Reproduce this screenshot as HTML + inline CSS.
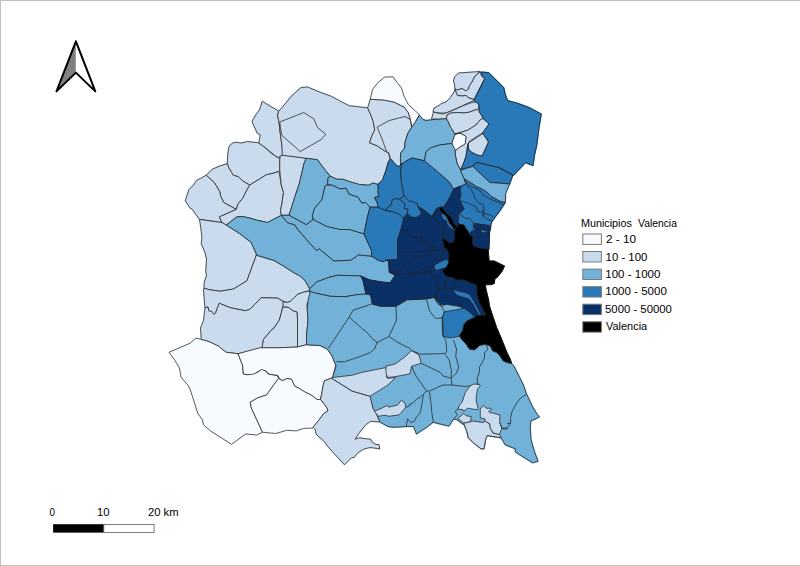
<!DOCTYPE html>
<html><head><meta charset="utf-8"><style>
html,body{margin:0;padding:0;background:#fff;}
svg{display:block;}
text{font-family:"Liberation Sans",sans-serif;font-size:11px;fill:#000;}
</style></head><body>
<svg width="800" height="566" viewBox="0 0 800 566">
<rect x="0" y="0" width="800" height="566" fill="#fff"/>
<g stroke-width="1.4" stroke-linejoin="round">
<polygon points="262.2,101.3 278.7,111.2 277.5,115.25 279,122 280.5,135.5 282,146 282.75,155 279,158 276,156.5 267,149 258.75,143 260.25,134.75 257.25,133.25 253.5,125 252,121.25 256.5,113.75 259.5,110" fill="#c9dbed" stroke="#c9dbed"/>
<polygon points="230.2,145 232.5,143.2 235.5,142.25 241.5,143 247.5,141.5 258,142.7 264,146.75 271.5,153.5 278.25,158 280.2,156.2 279.75,160.25 279.75,170 279,171.5 273,173.3 266.25,174.8 259.5,179 249.75,185 243,181.25 238.5,176.75 233.25,175.25 231,171.5 228.75,167.75 227.25,163.25 227.7,155 228.75,147.5" fill="#c9dbed" stroke="#c9dbed"/>
<polygon points="227.25,163.7 219,166.25 212.25,169.25 206.25,175.25 214.5,182.75 219.75,191.75 220.6,196.25 223.75,202.5 236.25,209.4 238.1,203.75 242.5,198.75 246.9,190 249.75,185 243,181.25 238.5,176.75 233.25,175.25 231,171.5 228.75,167.75" fill="#c9dbed" stroke="#c9dbed"/>
<polygon points="206.25,175.25 196.5,180.5 193.5,185 189,189.5 185.25,200.75 190,208.1 192,209 199.4,219.4 221.9,222.5 219.4,216.9 236.25,209.4 223.75,202.5 220.6,196.25 219.75,191.75 214.5,182.75" fill="#c9dbed" stroke="#c9dbed"/>
<polygon points="236.25,209.4 219.4,216.9 221.9,222.5 226.25,225 236.9,216.9 242.5,216.5 250,218.1 256.25,220 267.5,222.5 281.5,215.25 280.5,210.5 282,203 283.5,192.5 281.25,185 279,171.5 273,173.3 266.25,174.8 259.5,179 249.75,185 246.9,190 242.5,198.75 238.1,203.75" fill="#c9dbed" stroke="#c9dbed"/>
<polygon points="199.4,219.4 200,222.5 201.25,231.25 201.9,237.5 201.25,243.75 205,252.5 206.5,259 205.75,271 206.5,275.5 204.25,282.25 204,288.25 209.5,289.75 220,291.25 233.5,289 247,280.75 250,272.5 256,256 256.25,253.75 251.25,242.5 240,233.75 226.25,225 221.9,222.5" fill="#c9dbed" stroke="#c9dbed"/>
<polygon points="204,288.25 203.5,289 204.25,299.5 205,307.75 208,307 208.75,310.75 211.75,311.5 214,314.5 215.5,313 219.25,303.25 230.5,307.75 245.5,310.75 250,309.25 261.25,297.7 277.5,298.1 283.1,301.25 286.9,302.5 290.6,301.25 293.75,298.1 297.5,294.4 302.5,292.5 308.75,290.9 309.75,288.75 304.5,279.75 300,276 293.5,272.5 283,265.75 274,260.5 256.75,255.25 256,256 250,272.5 247,280.75 233.5,289 220,291.25 209.5,289.75" fill="#c9dbed" stroke="#c9dbed"/>
<polygon points="282.75,155 306.25,158.25 304,163.5 299.5,183 295,196.5 289,215.25 281.5,215.25 280.5,210.5 282,203 283.5,192.5 281.25,185 279.75,170 279.75,160.25 280.2,156.2" fill="#c9dbed" stroke="#c9dbed"/>
<polygon points="278.7,111.2 285,104 291,96.5 300,88.25 301.25,87.5 307.5,87 320,92.2 331.25,96.25 339.5,100.75 349.25,105.7 358.25,106.75 367.7,107.8 370.25,113.5 373.25,121.75 374.75,130 371.75,136 369.5,142.75 377,145.75 386,151.75 388.7,152.7 389.8,155.9 390.3,158.6 388.2,162.3 386,170 382.5,180 377.9,184.4 373,183 368.5,185.25 359.5,184.5 349,181.5 343,179.25 337,179.25 330.25,176.25 323.5,168 317.5,159.75 306.25,158.25 282.25,155.25 282,146 280.5,135.5 279,122 277.5,115.25" fill="#c9dbed" stroke="#c9dbed"/>
<polygon points="279.75,122 303.75,112.5 313.75,118.75 317.5,127.5 325.75,134.25 321.25,139.5 300.25,151.5 282,135.5 280.5,128" fill="#c9dbed" stroke="#c9dbed"/>
<polygon points="306.25,158.25 304,163.5 299.5,183 295,196.5 289,215.25 306.25,224.7 313,219.75 312.25,216 314.5,208.5 322,199.5 325,186 327.7,184.5 328,177.75 330.25,176.25 323.5,168 317.5,159.75" fill="#73b2d8" stroke="#73b2d8"/>
<polygon points="327.7,184.5 328,177.75 330.25,176.25 337,179.25 343,179.25 349,181.5 359.5,184.5 368.5,185.25 373,183 377.9,184.4 378.25,188.5 377.9,193 379,196.4 376.75,196.75 374.5,197.5 376,200.5 377.5,203.5 377.9,207.25 370,207 365.5,202.5 361.75,203.25 358,197.25 349,194.25 346,188.25 340,189 332.5,185.25" fill="#73b2d8" stroke="#73b2d8"/>
<polygon points="326.5,185.25 332.5,185.25 340,189 346,188.25 349,194.25 358,197.25 361.75,203.25 365.5,202.5 370,207 367,219 364,234 349,229.5 340,229.5 326.5,226.5 313.75,219.75 312.25,216 314.5,208.5 322,199.5 325,186" fill="#73b2d8" stroke="#73b2d8"/>
<polygon points="289,215.25 306.25,224.7 313,219.75 313.75,219.75 326.5,226.5 340,229.5 349,229.5 364,234 371.5,250.5 371.5,256.5 370.5,256.25 358.5,255 351,260.25 333.75,261 319.5,249 316.5,250.5 306.75,240 296.5,228 295,225 287.5,222.75 283,217.5 281.5,215.25" fill="#73b2d8" stroke="#73b2d8"/>
<polygon points="226.25,225 236.9,216.9 242.5,216.5 250,218.1 256.25,220 267.5,222.5 281.5,215.25 283,217.5 287.5,222.75 295,225 296.5,228 306.75,240 316.5,250.5 319.5,249 333.75,261 351,260.25 358.5,255 370.5,256.25 372,256.25 378,260.25 384,261.75 385.5,260.25 388.5,261 389.25,272.25 395.25,275.25 390,282.75 381.75,282 369,279.75 360.75,276 337.5,275.25 328.5,277.5 316.5,282 309.75,288.75 304.5,279.75 300,276 293.5,272.5 283,265.75 274,260.5 256.75,255.25 256.25,253.75 251.25,242.5 240,233.75" fill="#73b2d8" stroke="#73b2d8"/>
<polygon points="309.75,288.75 316.5,282 328.5,277.5 337.5,275.25 360.75,276 363,280.5 366,294 356.25,294.75 345,296.75 330,296.25 316.5,293.25 309.75,291.75" fill="#73b2d8" stroke="#73b2d8"/>
<polygon points="370.25,99.25 372.5,89.5 377.75,82.75 384.5,77.2 392.75,76.75 398,83.5 401.4,87.9 404.1,96.2 408.3,104.5 415.2,110.7 419.3,114.8 415.2,122.4 411.7,127.2 410.3,119.7 408.3,112.8 404.1,107.2 394.5,102.4 384.8,100.3 377,99.8" fill="#f7fbff" stroke="#f7fbff"/>
<polygon points="370.25,99.25 377,99.8 384.8,100.3 394.5,102.4 404.1,107.2 408.3,112.8 410.3,119.7 411.7,127.2 408,133 405,142 401.25,152.5 399.5,160 399.75,166 390.25,158.25 388,152 386,151.75 377,145.75 369.5,142.75 371.75,136 374.75,130 373.25,121.75 370.25,113.5 367.7,107.8" fill="#c9dbed" stroke="#c9dbed"/>
<polygon points="377.25,127 390,120.25 405,116.5 410.2,119.5 411.7,127.2 408,133 405,142 404.6,148 400.9,152.7 400.4,158.6 400.9,163.3 399.9,166.5 397.2,166 394,162.8 390.3,158.6 389.8,155.9 388.7,152.7 386.6,151.7 384.5,145.8 382.4,140" fill="#c9dbed" stroke="#c9dbed"/>
<polygon points="411.7,127.2 415.2,122.4 419.3,115.2 423,119.5 426,120.5 438,119 446.5,118.5 448.5,122 450,126 455,134 453,140 452,144 451.5,143.5 439.5,145 430.5,148 426,151.75 424.5,160.75 412,158 407.8,160.1 402,163.9 400.9,163.3 400.4,158.6 400.9,152.7 404.6,148 405,142 408,133" fill="#73b2d8" stroke="#73b2d8"/>
<polygon points="455,134.5 460,133 464,135 466.5,137 465.5,140 465.5,143 464.5,144.5 460,147 455,151 452,144 453,140" fill="#f7fbff" stroke="#f7fbff"/>
<polygon points="458.5,73 480,71.5 475,76 472,82 469,86.5 469,88.5 466,91 462,88.5 457.5,90 455,89 454.5,84.5 453.5,81 454.5,77" fill="#c9dbed" stroke="#c9dbed"/>
<polygon points="480,72 481.5,76 484.5,78.5 474,99.5 469,98 466,95.5 462,96 457.5,95.5 456,92 455,89 457.5,90 462,88.5 466,91 469,88.5 469,86.5 472,82 475,76" fill="#c9dbed" stroke="#c9dbed"/>
<polygon points="455,89.5 456,92 457.5,95.5 462,96 466,95.5 469,98 474,99.5 474.5,100 472,101.5 468,103 462,106 453,110 446,113 440,113 433,112 434,108 438,106 441.5,103.5 446,102 450,98 454,92" fill="#c9dbed" stroke="#c9dbed"/>
<polygon points="433.5,112 437,113 443.5,114 450,111.5 458,108 465,105 472,102.5 475.5,102 477.5,102.5 479,106 478,109.5 475,110 470,112 464,113 458,112.5 451,113 447,115 446.5,118.5 438,119 431.5,119" fill="#c9dbed" stroke="#c9dbed"/>
<polygon points="447,115 451,113 458,112.5 464,113 470,112 475,110 478,109.5 480,112 483,118.5 480,120 476,125 468,130 462,132 455,134 450,126 448.5,122 446.5,118.5" fill="#c9dbed" stroke="#c9dbed"/>
<polygon points="455,134 462,132 468,130 476,125 480,120 483,118.5 489,124 483,132.5 476,137 470,141 468.5,143 467.5,146 467,150 466,156 464,162 460.5,170 457,163 455.5,156 455,151 460,147 464.5,144.5 465.5,143 465.5,140 466.5,137 464,135 460,133" fill="#c9dbed" stroke="#c9dbed"/>
<polygon points="468.5,143 483,133.5 488.5,142 484.5,151 482,156 477,155 471,152 468.5,149 468,145" fill="#c9dbed" stroke="#c9dbed"/>
<polygon points="481,72 488.75,72.75 497,81 503.75,87.75 505.25,94.5 507.5,100.5 518,103.5 530,108 541.25,114 539,127.5 536.75,145 534.5,155 533,165.5 525.5,162.5 513.5,175.25 500,167.75 476,162.5 472.25,166.25 461,169.25 460.5,170 464,162 466,156 467,150 467.5,146 468.5,143 468,145 468.5,149 471,152 477,155 482,156 484.5,151 488.5,142 483,133.5 483,132.5 489,124 483.5,118.5 479,111.75 479.75,108 478.25,103.5 473.75,100.5 485,78.75 482.75,76.5" fill="#2979b9" stroke="#2979b9"/>
<polygon points="390.3,158.6 394,162.8 397.2,166 399.9,166.5 400.9,163.3 402,163.9 400.6,170 400.75,175 401.5,182.5 403,190 403.75,195.25 403,196 400,199.75 398.5,199 395.5,198.6 392.5,199.75 391,205 387.25,208 385,210.25 377.9,207.25 377.5,203.5 376,200.5 374.5,197.5 376.75,196.75 379,196.4 377.9,193 378.25,188.5 377.9,184.4 382.5,180 386,170 388.2,162.3" fill="#2979b9" stroke="#2979b9"/>
<polygon points="402,163.9 407.8,160.1 412,158 424.5,160.75 435,169.4 448.75,181.25 453.75,189 450,197.25 444,207 441,207 436.5,208.5 432,216.75 423.75,210 417.75,206.25 417,203.25 414,202.5 411.75,201 409.5,201.75 407.5,200.5 403.75,195.25 403,190 401.5,182.5 400.75,175 400.6,170" fill="#2979b9" stroke="#2979b9"/>
<polygon points="424.5,160.75 426,151.75 430.5,148 439.5,145 451.5,143.5 455.25,149.5 455,151 455.5,156 457,163 460.5,170 462.9,176 464.1,178.5 465,181 466,184.1 461,186 456,187.9 453.75,189 448.75,181.25 435,169.4" fill="#73b2d8" stroke="#73b2d8"/>
<polygon points="370,207 377.9,207.25 385,210.25 392.5,211.6 399.5,214.25 402.1,216.9 403.9,217.75 401.25,228.75 397.5,240 397.5,259.5 385.5,260.25 384,261.75 378,260.25 372,256.25 371.5,256.5 371.5,250.5 364,234 367,219" fill="#2979b9" stroke="#2979b9"/>
<polygon points="403.9,217.75 407.25,213 411,216.75 414,217.5 418.5,216.75 419.25,215.25 421.5,213.75 420.75,211.5 418.5,208.5 417.75,206.25 423.75,210 432,216.75 436.5,208.5 441,207 444,207 450,197.25 453.75,189 456,187.9 461,186 460.4,190.4 461,194.75 459.75,199.75 461.6,204.1 464.1,208.5 462.25,211 458.75,213.75 458.1,222.5 459.25,224 457,226.25 455.3,229.6 454.2,233 454.75,238.6 453.6,242 449.1,243.1 446.9,240.9 444.6,238.6 442.4,239.2 443.5,243.1 444.6,247.6 448,251 449.1,254.4 448.6,257.75 449.1,262.25 445.75,267.9 442.4,270.1 443.5,272.4 444.6,274 446.9,276.6 453.6,277.75 457,280 459.8,280 462.6,279.4 475,284.5 476.7,285.1 477.25,295.75 479.5,302.5 482.9,309.25 486.25,314.9 481.6,315.2 477.1,315.75 474.75,317 471,313.25 465,309 459.5,306.5 446,304.25 441,305 434,297.5 426.5,299 407,299.75 405,301.25 396,306.5 381,306.5 372,304.25 370.5,295.25 366,294 363,280.5 360.75,276 369,279.75 381.75,282 390,282.75 395.25,275.25 389.25,272.25 388.5,261 385.5,260.25 397.5,259.5 397.5,240 401.25,228.75" fill="#0a3068" stroke="#0a3068"/>
<polygon points="399.75,199.5 402.75,196.5 404.25,195 405.75,198 409.5,201.75 411.75,201 414,202.5 417,203.25 417.75,206.25 418.5,208.5 420.75,211.5 421.5,213.75 419.25,215.25 418.5,216.75 414,217.5 411,216.75 407.25,213 408,209.25 404.25,208.5 405,204" fill="#2979b9" stroke="#2979b9"/>
<polygon points="385,210.25 387.25,208 391,205 392.5,199.75 395.5,198.6 398.5,199 400,199.75 405,204 404.25,208.5 408,209.25 407.25,213 403.9,217.75 402.1,216.9 399.5,214.25 392.5,211.6" fill="#2979b9" stroke="#2979b9"/>
<polygon points="434.3,265.4 439.1,262.4 445.75,259.3 448.4,260.6 448.4,265.4 446.2,267.65 442.2,268.5 436,270.7 434.3,267.65" fill="#2979b9" stroke="#2979b9"/>
<polygon points="454,289.5 460,291.5 465,292.5 470,294.5 472.5,299 476,305 479.5,311.5 481.5,315.5 479,315 476.5,311 473,304.5 469,299 462,297 456.5,295 454,291.5" fill="#2979b9" stroke="#2979b9"/>
<polygon points="461,186 466,184.1 464.1,178.5 467.9,181 472.25,183.5 476.6,186.6 481,188.5 484.75,190.4 487.9,192.9 491,196 496,199.1 501,201.6 505.4,202.25 500,210.5 495.5,216.5 491.75,221.75 490.75,225.1 489.6,230.75 489,237.5 488.5,244.25 488,249.3 484,248.75 477.25,247.6 472.75,245.4 472.2,240.9 472.75,237.5 469.4,234.7 468.25,231.9 466,228.5 463.75,225.1 459.25,224 458.1,222.5 458.75,213.75 462.25,211 464.1,208.5 461.6,204.1 459.75,199.75 461,194.75 460.4,190.4" fill="#2979b9" stroke="#2979b9"/>
<polygon points="474.6,223.3 490.7,226.4 489.4,231.9 480.8,229.4 475.8,229.4 474,227" fill="#0a3068" stroke="#0a3068"/>
<polygon points="469.7,233.1 475.8,229.4 480.8,229.4 481.4,233.1 477.1,236.9 472.1,237.5 469.7,234.4" fill="#0a3068" stroke="#0a3068"/>
<polygon points="472.1,237.5 477.1,236.9 481.4,233.1 489.4,231.9 488.8,249.2 484,248.75 477.25,247.6 472.75,245.4 472.2,240.9" fill="#0a3068" stroke="#0a3068"/>
<polygon points="441,213.8 443.4,213.8 445.8,215.6 447.6,218.6 448.8,221 450,224 451.8,225.8 453.6,228.2 454.2,229.4 452.4,229.4 450,227.6 448.2,225.8 447,224 446.4,221 444,219.8 442.2,217.4" fill="#2979b9" stroke="#2979b9"/>
<polygon points="459.25,224 463.75,225.1 466,228.5 468.25,231.9 469.4,234.7 472.75,237.5 472.2,240.9 472.75,245.4 477.25,247.6 484,248.75 488,249.3 488.5,255.5 489,261.1 494.1,261.1 498.6,263.4 504.25,266.2 502,271 497.5,276.6 494.7,278.9 494.1,283.4 490.75,284.5 485.1,284.5 486.25,291.25 488.5,300.25 489.5,306.75 492.9,316.9 496.25,327 500.75,337.5 503.75,345 506.75,352.5 509.75,358.5 511.6,363.75 506,362.25 503,360.75 498.5,354 496.25,352.5 492.5,351 490.25,346.1 485,344.6 479.75,345.4 477.5,347.6 474.5,349.9 470,349.5 468.7,348.4 465.9,343.9 462.5,340.5 459.1,336 462.5,330.4 463.6,324.75 467,320.8 470.4,319.1 473.75,318 477.1,315.75 481.6,315.2 486.25,314.9 482.9,309.25 479.5,302.5 477.25,295.75 476.7,285.1 475,284.5 462.6,279.4 459.8,280 457,280 453.6,277.75 446.9,276.6 444.6,274 443.5,272.4 442.4,270.1 445.75,267.9 449.1,262.25 448.6,257.75 449.1,254.4 448,251 444.6,247.6 443.5,243.1 442.4,239.2 444.6,238.6 446.9,240.9 449.1,243.1 453.6,242 454.75,238.6 454.2,233 455.3,229.6 457,226.25" fill="#000000" stroke="#000000"/>
<polygon points="439.2,207.8 442.2,207.5 444,210.2 447,213.8 450,216.2 451.8,218.6 453,221.6 454.8,224.6 456,226.4 457,226.25 455.3,229.6 454.8,228.2 453.6,228.2 451.8,225.8 450,224 448.8,221 447.6,218.6 445.8,215.6 443.4,213.8 441,212 439.8,209.6" fill="#000000" stroke="#000000"/>
<polygon points="472.8,166.4 476.8,162.4 498.4,167.6 512.8,175.2 509.6,184 489.6,182.4" fill="#2979b9" stroke="#2979b9"/>
<polygon points="460.8,171.2 461.6,170 472.8,166.4 489.6,182.4 509.6,184 505.6,193.6 505.4,202.25 501,201.6 496,199.1 491,196 487.9,192.9 484.75,190.4 481,188.5 476.6,186.6 472.25,183.5 467.9,181 464.1,178.5 462.9,176" fill="#73b2d8" stroke="#73b2d8"/>
<polygon points="282.8,301.6 286.9,302.5 290.6,301.25 293.75,298.1 297.5,294.4 302.5,292.5 308.75,290.9 310.6,293.75 308.75,299.4 306.9,305 307.5,311.25 308.1,320 306.5,335 306.5,344.75 297.5,347 297.5,320 296.9,311.9 293.1,311 288.1,307.2 282.8,307.2" fill="#c9dbed" stroke="#c9dbed"/>
<polygon points="205,307.75 208,307 208.75,310.75 211.75,311.5 214,314.5 215.5,313 219.25,303.25 230.5,307.75 245.5,310.75 250,309.25 261.25,297.7 277.5,298.1 283.1,301.25 282.8,307.2 279.4,320 274,328 271,330.5 263.5,339.5 262,347.75 250,350.75 238,353.75 226,352.25 218.5,346.25 209.5,341.75 201.25,339.5 200.5,328 203.5,320.5" fill="#c9dbed" stroke="#c9dbed"/>
<polygon points="282.8,307.2 288.1,307.2 293.1,311 296.9,311.9 297.5,320 297.5,347 280,347.75 262,347.75 263.5,339.5 271,330.5 274,328 279.4,320" fill="#c9dbed" stroke="#c9dbed"/>
<polygon points="169,352.25 190,343.25 196,338 201.25,339.5 209.5,341.75 218.5,346.25 226,352.25 238,353.75 242.5,365 243.25,374 247,374.75 257.5,372.5 262,368.75 266.5,371.75 268,374 277,375.5 278.5,378.5 274,384.5 266.5,395 257.5,398 250.3,402.2 251.25,407.8 262.5,432.2 256.9,435 245.6,434 235.3,441.6 231.6,444.4 211,431.25 203.4,424.7 202.5,420 197.8,413.4 194,401.25 190.3,390 188.5,386 181,377 179.5,368 175,360.5" fill="#f7fbff" stroke="#f7fbff"/>
<polygon points="238,353.75 260,347.75 280,347.75 297.5,347 306.5,344.75 320,345.5 327.5,349.25 332,356 335.75,365 333.5,374 332.5,377.5 330.5,378.5 324.5,380.75 323,386 321.5,395 320,400.25 317,399.5 311,395 303.5,391.25 299,388.25 294.5,386 291.5,379.25 287,378.5 282.5,380.75 279.5,378.5 278,375.5 269,374 266,371 261.5,369.5 254,374 248,374.75 243.5,374 242.5,365" fill="#f7fbff" stroke="#f7fbff"/>
<polygon points="278.5,378.5 282.5,380.75 287,378.5 291.5,379.25 294.5,386 299,388.25 303.5,391.25 311,395 317,399.5 320.5,399.5 324.25,404 327,408 328,410.75 323.5,413.75 319.75,419 316,423.5 313,428 303.75,428.4 296.25,430.9 286.9,430.3 275.6,433.5 262.5,432.2 251.25,407.8 250.3,402.2 257.5,398 266.5,395 274,384.5" fill="#f7fbff" stroke="#f7fbff"/>
<polygon points="310.25,291.5 316.5,293.25 330,296.25 345,296.75 356.25,294.75 366,294 370.5,295.25 372,304.25 381,306.5 396,306.5 405,301.25 407,299.75 426.5,299 434,297.5 441,305 446,304.25 459.5,306.5 465,309 471,313.25 474.75,317 470.4,319.1 467,320.8 463.6,324.75 462.5,330.4 459.1,336 462.5,340.5 465.9,343.9 468.7,348.4 470,349.5 474.5,349.9 477.5,347.6 479.75,345.4 485,344.6 490.25,346.1 492.5,351 496.25,352.5 498.5,354 503,360.75 506,362.25 511.6,363.75 514,366.25 518.75,375.6 523.4,385 526.25,393.4 532.5,406.6 537.2,414.4 539.5,416.7 535.6,419 531,420.6 530.2,426.9 531,439.4 534,450.3 538,461.25 532.5,462.8 520,455 515.3,451.9 515.3,448.75 505.2,444.8 501.25,437.8 487.2,435.5 485.6,439.4 484,448.75 481,448.75 473.1,442.5 468.4,437.8 466.9,431.6 464.5,425.3 456.7,419.8 453.6,419 448.9,426.1 441.9,424.5 433.3,422.2 426.25,427.7 420,431.6 416.5,434 413.5,426.5 406,426.5 394,427.25 388,426.5 379.75,422 376,413 373,408.5 370,398 370,396.25 352,391 331.75,378.25 332.5,377.5 336.25,365.5 335.75,365 332,356 327.5,349.25 320,345.5 306.5,344.75 306.5,335 308,320 307.25,309.5 308,300.5" fill="#73b2d8" stroke="#73b2d8"/>
<polygon points="444.5,311.75 458,309.5 464,308 470,312.5 474.75,317 470.4,319.1 467,320.8 463.6,324.75 462.5,330.4 459.1,336 458,336.5 450.5,338 443,336.5 442.25,326 442.25,317.75" fill="#2979b9" stroke="#2979b9"/>
<polygon points="331.75,378.25 352,391 370,396.25 373,408.5 376,413 379.75,422 370.75,421.25 365.5,425 359.5,432.5 355,439.25 359.5,437.75 364,438.5 370.75,439.25 371.5,441.5 376,444.5 379,444.5 379.75,449 376,448.25 370,447.5 364,449 358,452.75 353.5,458 352,457.25 344.5,464.75 335.5,455 328,446.75 324.25,441.5 319,437 316,434 315.25,429.5 313,427.25 316,423.5 319.75,419 323.5,413.75 328,410.75 327,408 324.25,404 320.5,399.5 321.5,395 323,386 324.5,380.75 330.5,378.5" fill="#c9dbed" stroke="#c9dbed"/>
<polygon points="332.5,377.5 352,375.25 362.5,372.25 385,367.75 388,369.25 386.5,377.5 388,378.25 395.5,377.5 388,385 370,396.25 352,391 331.75,378.25" fill="#c9dbed" stroke="#c9dbed"/>
<polygon points="386,366.25 395,364 405.5,356.5 411.5,350.5 419,355 421.25,363.25 411.5,366.25 410,373.75 395,376.75 387.5,377.5 386,373" fill="#c9dbed" stroke="#c9dbed"/>
<polygon points="374.4,411.25 381.25,408.4 387.5,405.3 388.75,407.2 397.5,405 401.25,400.3 405,403.1 405.6,407.5 401.25,412.5 398.75,415 388.75,416.25 385,415.3 378.1,416.25" fill="#c9dbed" stroke="#c9dbed"/>
<polygon points="470,385.9 473.75,384 479.4,384.5 480.3,385.9 477.5,388.75 476.6,394.4 476.1,400 478,408.25 477.25,409.75 467.5,408.25 463.75,411.25 463,409.75 457.75,409 460,404.5 462.2,401.9 465.3,392.5" fill="#c9dbed" stroke="#c9dbed"/>
<polygon points="457.75,418.75 463.75,413.5 466,415.75 471.25,416.5 470.5,421.75 463.75,423.25 459.25,419.5" fill="#c9dbed" stroke="#c9dbed"/>
<polygon points="463.75,423.25 470.5,421.75 472.75,421 478,421.75 483.25,422.5 485.5,421 486.25,421.75 490,424 490,427.75 491.5,430 493,433 496.75,433.75 499.75,434.5 500.5,437.5 501.25,437.8 487.2,435.5 485.6,439.4 484,448.75 481,448.75 473.1,442.5 468.4,437.8 466.9,431.6 464.5,425.3" fill="#c9dbed" stroke="#c9dbed"/>
<polygon points="480.25,409 483.25,405.6 486.25,408.25 490.75,408.25 491.5,409.75 488.5,411.25 490,412.75 493,413.1 499.75,415 499.75,422.5 502,428.5 500.5,431.5 499.75,434.5 496.75,433.75 493,433 491.5,430 490,427.75 490,424 486.25,421.75 485.5,421 484.75,418.75 480.25,418" fill="#c9dbed" stroke="#c9dbed"/>
</g>
<g stroke="#232323" stroke-width="0.75" stroke-linejoin="round" fill="none">
<polygon points="262.2,101.3 278.7,111.2 277.5,115.25 279,122 280.5,135.5 282,146 282.75,155 279,158 276,156.5 267,149 258.75,143 260.25,134.75 257.25,133.25 253.5,125 252,121.25 256.5,113.75 259.5,110" fill="#c9dbed"/>
<polygon points="230.2,145 232.5,143.2 235.5,142.25 241.5,143 247.5,141.5 258,142.7 264,146.75 271.5,153.5 278.25,158 280.2,156.2 279.75,160.25 279.75,170 279,171.5 273,173.3 266.25,174.8 259.5,179 249.75,185 243,181.25 238.5,176.75 233.25,175.25 231,171.5 228.75,167.75 227.25,163.25 227.7,155 228.75,147.5" fill="#c9dbed"/>
<polygon points="227.25,163.7 219,166.25 212.25,169.25 206.25,175.25 214.5,182.75 219.75,191.75 220.6,196.25 223.75,202.5 236.25,209.4 238.1,203.75 242.5,198.75 246.9,190 249.75,185 243,181.25 238.5,176.75 233.25,175.25 231,171.5 228.75,167.75" fill="#c9dbed"/>
<polygon points="206.25,175.25 196.5,180.5 193.5,185 189,189.5 185.25,200.75 190,208.1 192,209 199.4,219.4 221.9,222.5 219.4,216.9 236.25,209.4 223.75,202.5 220.6,196.25 219.75,191.75 214.5,182.75" fill="#c9dbed"/>
<polygon points="236.25,209.4 219.4,216.9 221.9,222.5 226.25,225 236.9,216.9 242.5,216.5 250,218.1 256.25,220 267.5,222.5 281.5,215.25 280.5,210.5 282,203 283.5,192.5 281.25,185 279,171.5 273,173.3 266.25,174.8 259.5,179 249.75,185 246.9,190 242.5,198.75 238.1,203.75" fill="#c9dbed"/>
<polygon points="199.4,219.4 200,222.5 201.25,231.25 201.9,237.5 201.25,243.75 205,252.5 206.5,259 205.75,271 206.5,275.5 204.25,282.25 204,288.25 209.5,289.75 220,291.25 233.5,289 247,280.75 250,272.5 256,256 256.25,253.75 251.25,242.5 240,233.75 226.25,225 221.9,222.5" fill="#c9dbed"/>
<polygon points="204,288.25 203.5,289 204.25,299.5 205,307.75 208,307 208.75,310.75 211.75,311.5 214,314.5 215.5,313 219.25,303.25 230.5,307.75 245.5,310.75 250,309.25 261.25,297.7 277.5,298.1 283.1,301.25 286.9,302.5 290.6,301.25 293.75,298.1 297.5,294.4 302.5,292.5 308.75,290.9 309.75,288.75 304.5,279.75 300,276 293.5,272.5 283,265.75 274,260.5 256.75,255.25 256,256 250,272.5 247,280.75 233.5,289 220,291.25 209.5,289.75" fill="#c9dbed"/>
<polygon points="282.75,155 306.25,158.25 304,163.5 299.5,183 295,196.5 289,215.25 281.5,215.25 280.5,210.5 282,203 283.5,192.5 281.25,185 279.75,170 279.75,160.25 280.2,156.2" fill="#c9dbed"/>
<polygon points="278.7,111.2 285,104 291,96.5 300,88.25 301.25,87.5 307.5,87 320,92.2 331.25,96.25 339.5,100.75 349.25,105.7 358.25,106.75 367.7,107.8 370.25,113.5 373.25,121.75 374.75,130 371.75,136 369.5,142.75 377,145.75 386,151.75 388.7,152.7 389.8,155.9 390.3,158.6 388.2,162.3 386,170 382.5,180 377.9,184.4 373,183 368.5,185.25 359.5,184.5 349,181.5 343,179.25 337,179.25 330.25,176.25 323.5,168 317.5,159.75 306.25,158.25 282.25,155.25 282,146 280.5,135.5 279,122 277.5,115.25" fill="#c9dbed"/>
<polygon points="279.75,122 303.75,112.5 313.75,118.75 317.5,127.5 325.75,134.25 321.25,139.5 300.25,151.5 282,135.5 280.5,128" fill="#c9dbed"/>
<polygon points="306.25,158.25 304,163.5 299.5,183 295,196.5 289,215.25 306.25,224.7 313,219.75 312.25,216 314.5,208.5 322,199.5 325,186 327.7,184.5 328,177.75 330.25,176.25 323.5,168 317.5,159.75" fill="#73b2d8"/>
<polygon points="327.7,184.5 328,177.75 330.25,176.25 337,179.25 343,179.25 349,181.5 359.5,184.5 368.5,185.25 373,183 377.9,184.4 378.25,188.5 377.9,193 379,196.4 376.75,196.75 374.5,197.5 376,200.5 377.5,203.5 377.9,207.25 370,207 365.5,202.5 361.75,203.25 358,197.25 349,194.25 346,188.25 340,189 332.5,185.25" fill="#73b2d8"/>
<polygon points="326.5,185.25 332.5,185.25 340,189 346,188.25 349,194.25 358,197.25 361.75,203.25 365.5,202.5 370,207 367,219 364,234 349,229.5 340,229.5 326.5,226.5 313.75,219.75 312.25,216 314.5,208.5 322,199.5 325,186" fill="#73b2d8"/>
<polygon points="289,215.25 306.25,224.7 313,219.75 313.75,219.75 326.5,226.5 340,229.5 349,229.5 364,234 371.5,250.5 371.5,256.5 370.5,256.25 358.5,255 351,260.25 333.75,261 319.5,249 316.5,250.5 306.75,240 296.5,228 295,225 287.5,222.75 283,217.5 281.5,215.25" fill="#73b2d8"/>
<polygon points="226.25,225 236.9,216.9 242.5,216.5 250,218.1 256.25,220 267.5,222.5 281.5,215.25 283,217.5 287.5,222.75 295,225 296.5,228 306.75,240 316.5,250.5 319.5,249 333.75,261 351,260.25 358.5,255 370.5,256.25 372,256.25 378,260.25 384,261.75 385.5,260.25 388.5,261 389.25,272.25 395.25,275.25 390,282.75 381.75,282 369,279.75 360.75,276 337.5,275.25 328.5,277.5 316.5,282 309.75,288.75 304.5,279.75 300,276 293.5,272.5 283,265.75 274,260.5 256.75,255.25 256.25,253.75 251.25,242.5 240,233.75" fill="#73b2d8"/>
<polygon points="309.75,288.75 316.5,282 328.5,277.5 337.5,275.25 360.75,276 363,280.5 366,294 356.25,294.75 345,296.75 330,296.25 316.5,293.25 309.75,291.75" fill="#73b2d8"/>
<polygon points="370.25,99.25 372.5,89.5 377.75,82.75 384.5,77.2 392.75,76.75 398,83.5 401.4,87.9 404.1,96.2 408.3,104.5 415.2,110.7 419.3,114.8 415.2,122.4 411.7,127.2 410.3,119.7 408.3,112.8 404.1,107.2 394.5,102.4 384.8,100.3 377,99.8" fill="#f7fbff"/>
<polygon points="370.25,99.25 377,99.8 384.8,100.3 394.5,102.4 404.1,107.2 408.3,112.8 410.3,119.7 411.7,127.2 408,133 405,142 401.25,152.5 399.5,160 399.75,166 390.25,158.25 388,152 386,151.75 377,145.75 369.5,142.75 371.75,136 374.75,130 373.25,121.75 370.25,113.5 367.7,107.8" fill="#c9dbed"/>
<polygon points="377.25,127 390,120.25 405,116.5 410.2,119.5 411.7,127.2 408,133 405,142 404.6,148 400.9,152.7 400.4,158.6 400.9,163.3 399.9,166.5 397.2,166 394,162.8 390.3,158.6 389.8,155.9 388.7,152.7 386.6,151.7 384.5,145.8 382.4,140" fill="#c9dbed"/>
<polygon points="411.7,127.2 415.2,122.4 419.3,115.2 423,119.5 426,120.5 438,119 446.5,118.5 448.5,122 450,126 455,134 453,140 452,144 451.5,143.5 439.5,145 430.5,148 426,151.75 424.5,160.75 412,158 407.8,160.1 402,163.9 400.9,163.3 400.4,158.6 400.9,152.7 404.6,148 405,142 408,133" fill="#73b2d8"/>
<polygon points="455,134.5 460,133 464,135 466.5,137 465.5,140 465.5,143 464.5,144.5 460,147 455,151 452,144 453,140" fill="#f7fbff"/>
<polygon points="458.5,73 480,71.5 475,76 472,82 469,86.5 469,88.5 466,91 462,88.5 457.5,90 455,89 454.5,84.5 453.5,81 454.5,77" fill="#c9dbed"/>
<polygon points="480,72 481.5,76 484.5,78.5 474,99.5 469,98 466,95.5 462,96 457.5,95.5 456,92 455,89 457.5,90 462,88.5 466,91 469,88.5 469,86.5 472,82 475,76" fill="#c9dbed"/>
<polygon points="455,89.5 456,92 457.5,95.5 462,96 466,95.5 469,98 474,99.5 474.5,100 472,101.5 468,103 462,106 453,110 446,113 440,113 433,112 434,108 438,106 441.5,103.5 446,102 450,98 454,92" fill="#c9dbed"/>
<polygon points="433.5,112 437,113 443.5,114 450,111.5 458,108 465,105 472,102.5 475.5,102 477.5,102.5 479,106 478,109.5 475,110 470,112 464,113 458,112.5 451,113 447,115 446.5,118.5 438,119 431.5,119" fill="#c9dbed"/>
<polygon points="447,115 451,113 458,112.5 464,113 470,112 475,110 478,109.5 480,112 483,118.5 480,120 476,125 468,130 462,132 455,134 450,126 448.5,122 446.5,118.5" fill="#c9dbed"/>
<polygon points="455,134 462,132 468,130 476,125 480,120 483,118.5 489,124 483,132.5 476,137 470,141 468.5,143 467.5,146 467,150 466,156 464,162 460.5,170 457,163 455.5,156 455,151 460,147 464.5,144.5 465.5,143 465.5,140 466.5,137 464,135 460,133" fill="#c9dbed"/>
<polygon points="468.5,143 483,133.5 488.5,142 484.5,151 482,156 477,155 471,152 468.5,149 468,145" fill="#c9dbed"/>
<polygon points="481,72 488.75,72.75 497,81 503.75,87.75 505.25,94.5 507.5,100.5 518,103.5 530,108 541.25,114 539,127.5 536.75,145 534.5,155 533,165.5 525.5,162.5 513.5,175.25 500,167.75 476,162.5 472.25,166.25 461,169.25 460.5,170 464,162 466,156 467,150 467.5,146 468.5,143 468,145 468.5,149 471,152 477,155 482,156 484.5,151 488.5,142 483,133.5 483,132.5 489,124 483.5,118.5 479,111.75 479.75,108 478.25,103.5 473.75,100.5 485,78.75 482.75,76.5" fill="#2979b9"/>
<polygon points="390.3,158.6 394,162.8 397.2,166 399.9,166.5 400.9,163.3 402,163.9 400.6,170 400.75,175 401.5,182.5 403,190 403.75,195.25 403,196 400,199.75 398.5,199 395.5,198.6 392.5,199.75 391,205 387.25,208 385,210.25 377.9,207.25 377.5,203.5 376,200.5 374.5,197.5 376.75,196.75 379,196.4 377.9,193 378.25,188.5 377.9,184.4 382.5,180 386,170 388.2,162.3" fill="#2979b9"/>
<polygon points="402,163.9 407.8,160.1 412,158 424.5,160.75 435,169.4 448.75,181.25 453.75,189 450,197.25 444,207 441,207 436.5,208.5 432,216.75 423.75,210 417.75,206.25 417,203.25 414,202.5 411.75,201 409.5,201.75 407.5,200.5 403.75,195.25 403,190 401.5,182.5 400.75,175 400.6,170" fill="#2979b9"/>
<polygon points="424.5,160.75 426,151.75 430.5,148 439.5,145 451.5,143.5 455.25,149.5 455,151 455.5,156 457,163 460.5,170 462.9,176 464.1,178.5 465,181 466,184.1 461,186 456,187.9 453.75,189 448.75,181.25 435,169.4" fill="#73b2d8"/>
<polygon points="370,207 377.9,207.25 385,210.25 392.5,211.6 399.5,214.25 402.1,216.9 403.9,217.75 401.25,228.75 397.5,240 397.5,259.5 385.5,260.25 384,261.75 378,260.25 372,256.25 371.5,256.5 371.5,250.5 364,234 367,219" fill="#2979b9"/>
<polygon points="403.9,217.75 407.25,213 411,216.75 414,217.5 418.5,216.75 419.25,215.25 421.5,213.75 420.75,211.5 418.5,208.5 417.75,206.25 423.75,210 432,216.75 436.5,208.5 441,207 444,207 450,197.25 453.75,189 456,187.9 461,186 460.4,190.4 461,194.75 459.75,199.75 461.6,204.1 464.1,208.5 462.25,211 458.75,213.75 458.1,222.5 459.25,224 457,226.25 455.3,229.6 454.2,233 454.75,238.6 453.6,242 449.1,243.1 446.9,240.9 444.6,238.6 442.4,239.2 443.5,243.1 444.6,247.6 448,251 449.1,254.4 448.6,257.75 449.1,262.25 445.75,267.9 442.4,270.1 443.5,272.4 444.6,274 446.9,276.6 453.6,277.75 457,280 459.8,280 462.6,279.4 475,284.5 476.7,285.1 477.25,295.75 479.5,302.5 482.9,309.25 486.25,314.9 481.6,315.2 477.1,315.75 474.75,317 471,313.25 465,309 459.5,306.5 446,304.25 441,305 434,297.5 426.5,299 407,299.75 405,301.25 396,306.5 381,306.5 372,304.25 370.5,295.25 366,294 363,280.5 360.75,276 369,279.75 381.75,282 390,282.75 395.25,275.25 389.25,272.25 388.5,261 385.5,260.25 397.5,259.5 397.5,240 401.25,228.75" fill="#0a3068"/>
<polygon points="399.75,199.5 402.75,196.5 404.25,195 405.75,198 409.5,201.75 411.75,201 414,202.5 417,203.25 417.75,206.25 418.5,208.5 420.75,211.5 421.5,213.75 419.25,215.25 418.5,216.75 414,217.5 411,216.75 407.25,213 408,209.25 404.25,208.5 405,204" fill="#2979b9"/>
<polygon points="385,210.25 387.25,208 391,205 392.5,199.75 395.5,198.6 398.5,199 400,199.75 405,204 404.25,208.5 408,209.25 407.25,213 403.9,217.75 402.1,216.9 399.5,214.25 392.5,211.6" fill="#2979b9"/>
<polygon points="434.3,265.4 439.1,262.4 445.75,259.3 448.4,260.6 448.4,265.4 446.2,267.65 442.2,268.5 436,270.7 434.3,267.65" fill="#2979b9"/>
<polygon points="454,289.5 460,291.5 465,292.5 470,294.5 472.5,299 476,305 479.5,311.5 481.5,315.5 479,315 476.5,311 473,304.5 469,299 462,297 456.5,295 454,291.5" fill="#2979b9"/>
<polygon points="461,186 466,184.1 464.1,178.5 467.9,181 472.25,183.5 476.6,186.6 481,188.5 484.75,190.4 487.9,192.9 491,196 496,199.1 501,201.6 505.4,202.25 500,210.5 495.5,216.5 491.75,221.75 490.75,225.1 489.6,230.75 489,237.5 488.5,244.25 488,249.3 484,248.75 477.25,247.6 472.75,245.4 472.2,240.9 472.75,237.5 469.4,234.7 468.25,231.9 466,228.5 463.75,225.1 459.25,224 458.1,222.5 458.75,213.75 462.25,211 464.1,208.5 461.6,204.1 459.75,199.75 461,194.75 460.4,190.4" fill="#2979b9"/>
<polygon points="474.6,223.3 490.7,226.4 489.4,231.9 480.8,229.4 475.8,229.4 474,227" fill="#0a3068"/>
<polygon points="469.7,233.1 475.8,229.4 480.8,229.4 481.4,233.1 477.1,236.9 472.1,237.5 469.7,234.4" fill="#0a3068"/>
<polygon points="472.1,237.5 477.1,236.9 481.4,233.1 489.4,231.9 488.8,249.2 484,248.75 477.25,247.6 472.75,245.4 472.2,240.9" fill="#0a3068"/>
<polygon points="441,213.8 443.4,213.8 445.8,215.6 447.6,218.6 448.8,221 450,224 451.8,225.8 453.6,228.2 454.2,229.4 452.4,229.4 450,227.6 448.2,225.8 447,224 446.4,221 444,219.8 442.2,217.4" fill="#2979b9"/>
<polygon points="459.25,224 463.75,225.1 466,228.5 468.25,231.9 469.4,234.7 472.75,237.5 472.2,240.9 472.75,245.4 477.25,247.6 484,248.75 488,249.3 488.5,255.5 489,261.1 494.1,261.1 498.6,263.4 504.25,266.2 502,271 497.5,276.6 494.7,278.9 494.1,283.4 490.75,284.5 485.1,284.5 486.25,291.25 488.5,300.25 489.5,306.75 492.9,316.9 496.25,327 500.75,337.5 503.75,345 506.75,352.5 509.75,358.5 511.6,363.75 506,362.25 503,360.75 498.5,354 496.25,352.5 492.5,351 490.25,346.1 485,344.6 479.75,345.4 477.5,347.6 474.5,349.9 470,349.5 468.7,348.4 465.9,343.9 462.5,340.5 459.1,336 462.5,330.4 463.6,324.75 467,320.8 470.4,319.1 473.75,318 477.1,315.75 481.6,315.2 486.25,314.9 482.9,309.25 479.5,302.5 477.25,295.75 476.7,285.1 475,284.5 462.6,279.4 459.8,280 457,280 453.6,277.75 446.9,276.6 444.6,274 443.5,272.4 442.4,270.1 445.75,267.9 449.1,262.25 448.6,257.75 449.1,254.4 448,251 444.6,247.6 443.5,243.1 442.4,239.2 444.6,238.6 446.9,240.9 449.1,243.1 453.6,242 454.75,238.6 454.2,233 455.3,229.6 457,226.25" fill="#000000"/>
<polygon points="439.2,207.8 442.2,207.5 444,210.2 447,213.8 450,216.2 451.8,218.6 453,221.6 454.8,224.6 456,226.4 457,226.25 455.3,229.6 454.8,228.2 453.6,228.2 451.8,225.8 450,224 448.8,221 447.6,218.6 445.8,215.6 443.4,213.8 441,212 439.8,209.6" fill="#000000"/>
<polygon points="472.8,166.4 476.8,162.4 498.4,167.6 512.8,175.2 509.6,184 489.6,182.4" fill="#2979b9"/>
<polygon points="460.8,171.2 461.6,170 472.8,166.4 489.6,182.4 509.6,184 505.6,193.6 505.4,202.25 501,201.6 496,199.1 491,196 487.9,192.9 484.75,190.4 481,188.5 476.6,186.6 472.25,183.5 467.9,181 464.1,178.5 462.9,176" fill="#73b2d8"/>
<polygon points="282.8,301.6 286.9,302.5 290.6,301.25 293.75,298.1 297.5,294.4 302.5,292.5 308.75,290.9 310.6,293.75 308.75,299.4 306.9,305 307.5,311.25 308.1,320 306.5,335 306.5,344.75 297.5,347 297.5,320 296.9,311.9 293.1,311 288.1,307.2 282.8,307.2" fill="#c9dbed"/>
<polygon points="205,307.75 208,307 208.75,310.75 211.75,311.5 214,314.5 215.5,313 219.25,303.25 230.5,307.75 245.5,310.75 250,309.25 261.25,297.7 277.5,298.1 283.1,301.25 282.8,307.2 279.4,320 274,328 271,330.5 263.5,339.5 262,347.75 250,350.75 238,353.75 226,352.25 218.5,346.25 209.5,341.75 201.25,339.5 200.5,328 203.5,320.5" fill="#c9dbed"/>
<polygon points="282.8,307.2 288.1,307.2 293.1,311 296.9,311.9 297.5,320 297.5,347 280,347.75 262,347.75 263.5,339.5 271,330.5 274,328 279.4,320" fill="#c9dbed"/>
<polygon points="169,352.25 190,343.25 196,338 201.25,339.5 209.5,341.75 218.5,346.25 226,352.25 238,353.75 242.5,365 243.25,374 247,374.75 257.5,372.5 262,368.75 266.5,371.75 268,374 277,375.5 278.5,378.5 274,384.5 266.5,395 257.5,398 250.3,402.2 251.25,407.8 262.5,432.2 256.9,435 245.6,434 235.3,441.6 231.6,444.4 211,431.25 203.4,424.7 202.5,420 197.8,413.4 194,401.25 190.3,390 188.5,386 181,377 179.5,368 175,360.5" fill="#f7fbff"/>
<polygon points="238,353.75 260,347.75 280,347.75 297.5,347 306.5,344.75 320,345.5 327.5,349.25 332,356 335.75,365 333.5,374 332.5,377.5 330.5,378.5 324.5,380.75 323,386 321.5,395 320,400.25 317,399.5 311,395 303.5,391.25 299,388.25 294.5,386 291.5,379.25 287,378.5 282.5,380.75 279.5,378.5 278,375.5 269,374 266,371 261.5,369.5 254,374 248,374.75 243.5,374 242.5,365" fill="#f7fbff"/>
<polygon points="278.5,378.5 282.5,380.75 287,378.5 291.5,379.25 294.5,386 299,388.25 303.5,391.25 311,395 317,399.5 320.5,399.5 324.25,404 327,408 328,410.75 323.5,413.75 319.75,419 316,423.5 313,428 303.75,428.4 296.25,430.9 286.9,430.3 275.6,433.5 262.5,432.2 251.25,407.8 250.3,402.2 257.5,398 266.5,395 274,384.5" fill="#f7fbff"/>
<polygon points="310.25,291.5 316.5,293.25 330,296.25 345,296.75 356.25,294.75 366,294 370.5,295.25 372,304.25 381,306.5 396,306.5 405,301.25 407,299.75 426.5,299 434,297.5 441,305 446,304.25 459.5,306.5 465,309 471,313.25 474.75,317 470.4,319.1 467,320.8 463.6,324.75 462.5,330.4 459.1,336 462.5,340.5 465.9,343.9 468.7,348.4 470,349.5 474.5,349.9 477.5,347.6 479.75,345.4 485,344.6 490.25,346.1 492.5,351 496.25,352.5 498.5,354 503,360.75 506,362.25 511.6,363.75 514,366.25 518.75,375.6 523.4,385 526.25,393.4 532.5,406.6 537.2,414.4 539.5,416.7 535.6,419 531,420.6 530.2,426.9 531,439.4 534,450.3 538,461.25 532.5,462.8 520,455 515.3,451.9 515.3,448.75 505.2,444.8 501.25,437.8 487.2,435.5 485.6,439.4 484,448.75 481,448.75 473.1,442.5 468.4,437.8 466.9,431.6 464.5,425.3 456.7,419.8 453.6,419 448.9,426.1 441.9,424.5 433.3,422.2 426.25,427.7 420,431.6 416.5,434 413.5,426.5 406,426.5 394,427.25 388,426.5 379.75,422 376,413 373,408.5 370,398 370,396.25 352,391 331.75,378.25 332.5,377.5 336.25,365.5 335.75,365 332,356 327.5,349.25 320,345.5 306.5,344.75 306.5,335 308,320 307.25,309.5 308,300.5" fill="#73b2d8"/>
<polygon points="444.5,311.75 458,309.5 464,308 470,312.5 474.75,317 470.4,319.1 467,320.8 463.6,324.75 462.5,330.4 459.1,336 458,336.5 450.5,338 443,336.5 442.25,326 442.25,317.75" fill="#2979b9"/>
<polygon points="331.75,378.25 352,391 370,396.25 373,408.5 376,413 379.75,422 370.75,421.25 365.5,425 359.5,432.5 355,439.25 359.5,437.75 364,438.5 370.75,439.25 371.5,441.5 376,444.5 379,444.5 379.75,449 376,448.25 370,447.5 364,449 358,452.75 353.5,458 352,457.25 344.5,464.75 335.5,455 328,446.75 324.25,441.5 319,437 316,434 315.25,429.5 313,427.25 316,423.5 319.75,419 323.5,413.75 328,410.75 327,408 324.25,404 320.5,399.5 321.5,395 323,386 324.5,380.75 330.5,378.5" fill="#c9dbed"/>
<polygon points="332.5,377.5 352,375.25 362.5,372.25 385,367.75 388,369.25 386.5,377.5 388,378.25 395.5,377.5 388,385 370,396.25 352,391 331.75,378.25" fill="#c9dbed"/>
<polygon points="386,366.25 395,364 405.5,356.5 411.5,350.5 419,355 421.25,363.25 411.5,366.25 410,373.75 395,376.75 387.5,377.5 386,373" fill="#c9dbed"/>
<polygon points="374.4,411.25 381.25,408.4 387.5,405.3 388.75,407.2 397.5,405 401.25,400.3 405,403.1 405.6,407.5 401.25,412.5 398.75,415 388.75,416.25 385,415.3 378.1,416.25" fill="#c9dbed"/>
<polygon points="470,385.9 473.75,384 479.4,384.5 480.3,385.9 477.5,388.75 476.6,394.4 476.1,400 478,408.25 477.25,409.75 467.5,408.25 463.75,411.25 463,409.75 457.75,409 460,404.5 462.2,401.9 465.3,392.5" fill="#c9dbed"/>
<polygon points="457.75,418.75 463.75,413.5 466,415.75 471.25,416.5 470.5,421.75 463.75,423.25 459.25,419.5" fill="#c9dbed"/>
<polygon points="463.75,423.25 470.5,421.75 472.75,421 478,421.75 483.25,422.5 485.5,421 486.25,421.75 490,424 490,427.75 491.5,430 493,433 496.75,433.75 499.75,434.5 500.5,437.5 501.25,437.8 487.2,435.5 485.6,439.4 484,448.75 481,448.75 473.1,442.5 468.4,437.8 466.9,431.6 464.5,425.3" fill="#c9dbed"/>
<polygon points="480.25,409 483.25,405.6 486.25,408.25 490.75,408.25 491.5,409.75 488.5,411.25 490,412.75 493,413.1 499.75,415 499.75,422.5 502,428.5 500.5,431.5 499.75,434.5 496.75,433.75 493,433 491.5,430 490,427.75 490,424 486.25,421.75 485.5,421 484.75,418.75 480.25,418" fill="#c9dbed"/>
<polyline points="401,228.6 407.3,230.4 408.7,235.3 410.85,237.5 415.1,236.75 421.5,238.2 422.2,241.7 426.4,243.1 430,243.8 432.8,247.4 435.6,247.4 438.4,249.5 443.4,248.8"/>
<polyline points="426.4,212 432.8,217 438.4,223.3 444.1,230.4 446.9,231.8 451.9,233.2"/>
<polyline points="444.1,230.4 442.7,234.6 442.7,238.9"/>
<polyline points="432.8,217 434.2,214.8 434.9,212"/>
<polyline points="398.1,252 409.2,252.4 415.4,251.9 426.9,251 433,250.6 443.7,249.3"/>
<polyline points="433,250.6 433,246.6 430.4,244 423.3,242.2 421.6,240.4 421.6,236.9"/>
<polyline points="389.3,272.25 399.5,270.9 404.75,265.2 409.2,262.5 417.1,257.2 426,255.9 431.3,255 436.6,259.9 438.4,261.6 441.9,256.3 443.7,250.1"/>
<polyline points="391.5,273.1 402.1,274.9 409.2,274 415.4,272.25 424.2,268.7 428.6,265.2 434.3,265.4"/>
<polyline points="409.2,274 411.8,275.3 419.8,273.1 429.5,271.4 433,270.9 436,270.7"/>
<polyline points="418,273.25 430.75,271.75 431.5,275.5 436,276.25 436.4,280 436.75,284.5 437.5,286 439,289.4 445,287.9 446.1,286 444.6,283 445.75,280.75"/>
<polyline points="445.75,287.5 447.25,289 452.5,289.4 454,287.5 453.6,283 455.5,281.5"/>
<polyline points="439,289.4 436,293.5 434.5,297.25 440.5,296.9 442.75,298 451.75,297.25 455.5,299.5 460,304 460,307"/>
<polyline points="407,299.75 418,299.5 425.5,298.75 434.5,297.25 436,301 438.25,304.75 441,305"/>
<polyline points="444.5,280.2 447.2,286"/>
<polyline points="464.1,179.75 465.4,182.25 468.5,184.75 472.9,187.25 477.25,189.1 481,191.6 482.9,194.75 485.4,196.6 489.1,198.5 493.5,200.4 499.75,202.9 503.5,204.75"/>
<polyline points="466.6,185.4 469.1,187.25 471.6,190.4 473.5,193.5 474.1,196.6 476,199.75 477.9,202.25 479.75,203.5 482.25,204.1 483.5,206 484.1,211 484,216"/>
<polyline points="459.2,200.4 467.2,202.9 475.8,206.6 477.1,210.9 483.3,212.8 491.9,215.8 493.2,217.1"/>
<polyline points="482,209.7 483.3,212.1 482,215.8 488.2,219.6 491.9,220.8"/>
<polyline points="458.5,213.4 462.25,215.8 464.7,218.3 469.7,218.3 473.4,223.3 473.4,228.2 470.9,231.9"/>
<polyline points="473.4,223.3 480.8,224.5 489.4,225.1"/>
<polyline points="371,304.25 353,310.25 349.25,317 328.25,348.5"/>
<polyline points="349.25,317 357.5,324.5 368,333.5 371.75,338 377,342.5 389,336.5 396.5,320 396,306.5"/>
<polyline points="336.25,361.75 344.5,361.75 358,357.25 370,352.75 374.5,349 376.75,343 377,342.5"/>
<polyline points="389,336.5 398,342.5 410,348.5 411.5,350.5 420.5,354.25 444.5,353.5 446.75,352 446,341 443,335 443,326 442.25,317.75"/>
<polyline points="426.5,299 429.5,311 435.5,318.5 442.25,317.75 444.5,311.75 441.5,306.5 434,297.5"/>
<polyline points="441.5,306.5 446,304.25"/>
<polyline points="421.25,363.25 440,372.25 443,376 451.25,378.25 452,385"/>
<polyline points="411.5,366.25 416,376 426.5,391 429.5,391"/>
<polyline points="444.5,353.5 449,359.5 451.25,370 451.25,378.25"/>
<polyline points="453.5,340.25 456.5,349 455.75,356.5 458.75,367 456.5,373 452,377.5"/>
<polyline points="452,385 465.5,386.5 470,385.9"/>
<polyline points="429.5,391 443,385 452,385"/>
<polyline points="486.5,346 488,349 484.5,353 484.5,357.8 482.2,362.5 479.4,367.2 479.4,371.9 477.5,377.5 477,383.1 479.4,384.5"/>
<polyline points="426.5,391 423.5,394 422,403 420.5,412 416.25,417.5 414.4,421.25 410.6,422.5 407.5,418.75 406.25,426.25"/>
<polyline points="429.5,391.75 431,403 431.7,411.25 433.3,422.2"/>
<polyline points="405.6,407.5 410,405.6 409.4,404.4 413.75,402.5 416.9,398.75 420,397.5 422.5,395"/>
<polyline points="526.25,394.4 520.6,398.1 516.9,402.8 514,408 512.2,411.25 510.6,417.5 510.6,423.75 507.5,423 509.8,425.3 507.5,427.7 501.25,428.4"/>
<polyline points="499.75,422.5 502,428.5 505.75,429.25 508,428.5"/>
<polyline points="453.6,419 457.2,415.2 455.2,411.25 457.75,409"/>
</g>
<!-- north arrow -->
<polygon points="75.9,41.3 56.5,91.4 75.9,72.6" fill="#808080"/>
<polygon points="75.9,41.3 95.3,91.4 75.9,72.6" fill="#fff"/>
<polygon points="75.9,41.3 56.5,91.4 75.9,72.6 95.3,91.4" fill="none" stroke="#000" stroke-width="2" stroke-linejoin="round"/>
<!-- legend -->
<text x="580.9" y="226.5" textLength="50.97" lengthAdjust="spacingAndGlyphs" style="font-size:11.3px">Municipios</text>
<text x="638.0" y="226.5" textLength="38.9" lengthAdjust="spacingAndGlyphs" style="font-size:11.3px">Valencia</text>
<rect x="582.8" y="234.00" width="18.6" height="10.4" fill="#f7fbff" stroke="#7a7a7a" stroke-width="1"/><text x="606.0" y="242.8" textLength="30.06" lengthAdjust="spacingAndGlyphs" style="font-size:11.6px">2 - 10</text><rect x="582.8" y="251.55" width="18.6" height="10.4" fill="#c9dbed" stroke="#7a7a7a" stroke-width="1"/><text x="605.6" y="260.6" textLength="41.75" lengthAdjust="spacingAndGlyphs" style="font-size:11.6px">10 - 100</text><rect x="582.8" y="269.10" width="18.6" height="10.4" fill="#73b2d8" stroke="#7a7a7a" stroke-width="1"/><text x="605.3" y="277.8" textLength="55.05" lengthAdjust="spacingAndGlyphs" style="font-size:11.6px">100 - 1000</text><rect x="582.8" y="286.65" width="18.6" height="10.4" fill="#2979b9" stroke="#7a7a7a" stroke-width="1"/><text x="605.3" y="295.3" textLength="61.49" lengthAdjust="spacingAndGlyphs" style="font-size:11.6px">1000 - 5000</text><rect x="582.8" y="304.20" width="18.6" height="10.4" fill="#0a3068" stroke="#7a7a7a" stroke-width="1"/><text x="605.0" y="312.8" textLength="66.94" lengthAdjust="spacingAndGlyphs" style="font-size:11.6px">5000 - 50000</text><rect x="582.8" y="321.75" width="18.6" height="10.4" fill="#000000" stroke="#7a7a7a" stroke-width="1"/><text x="606.0" y="330.3" textLength="41.22" lengthAdjust="spacingAndGlyphs" style="font-size:11.6px">Valencia</text>
<!-- scale bar -->
<rect x="53.1" y="524.2" width="50.7" height="8.4" fill="#000"/>
<rect x="103.8" y="524.6" width="50.3" height="7.8" fill="#fff" stroke="#555" stroke-width="0.8"/>
<text x="49.5" y="515.7" textLength="5.45" lengthAdjust="spacingAndGlyphs" style="font-size:11.6px">0</text>
<text x="96.9" y="515.7" textLength="12.51" lengthAdjust="spacingAndGlyphs" style="font-size:11.6px">10</text>
<text x="148" y="515.7" textLength="30.58" lengthAdjust="spacingAndGlyphs" style="font-size:11.6px">20 km</text>
<!-- frame -->
<rect x="0" y="0" width="800" height="1" fill="#c0c0c0"/>
<rect x="0" y="0" width="1" height="566" fill="#c0c0c0"/>
<rect x="0" y="565" width="800" height="1" fill="#c0c0c0"/>
</svg>
</body></html>
